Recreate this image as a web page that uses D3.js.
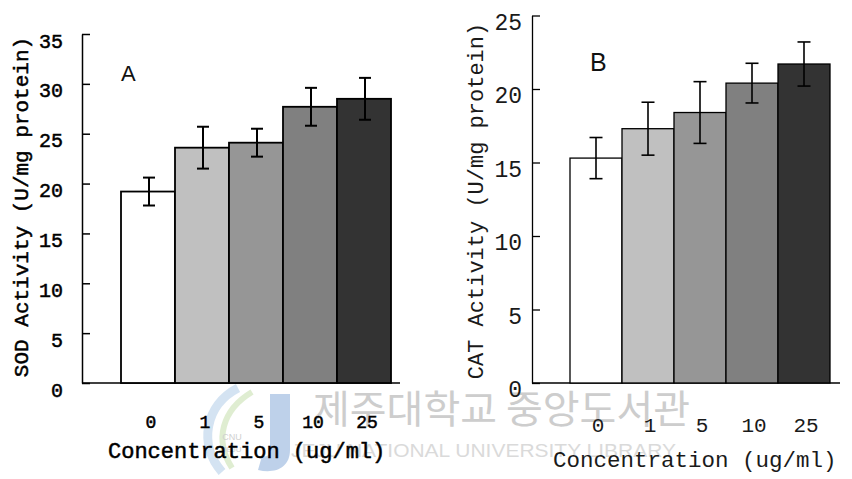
<!DOCTYPE html>
<html>
<head>
<meta charset="utf-8">
<script src="https://cdn.jsdelivr.net/npm/d3@7/dist/d3.min.js"></script>
<style>
  html, body { margin: 0; padding: 0; background: #fff; }
  svg { display: block; }
</style>
</head>
<body>
<svg id="chart" width="852" height="479"></svg>
<script>
// Concentrations tested (ug/ml)
const concentrations = ["0", "1", "5", "10", "25"];

// Panel A: SOD activity (U/mg protein), mean and error
const sodMean = [19.2, 23.6, 24.1, 27.7, 28.5];
const sodErr  = [1.4, 2.1, 1.4, 1.9, 2.1];
const sodTicks = [0, 5, 10, 15, 20, 25, 30, 35];

// Panel B: CAT activity (U/mg protein), mean and error
const catMean = [15.3, 17.3, 18.4, 20.4, 21.7];
const catErr  = [1.4, 1.8, 2.1, 1.35, 1.5];
const catTicks = [0, 5, 10, 15, 20, 25];

// Bar fills, from control (white) to highest dose (dark)
const barFills = ["#ffffff", "#c0c0c0", "#969696", "#808080", "#333333"];

const svg = d3.select("#chart");
const mono = "'Liberation Mono', 'DejaVu Sans Mono', monospace";

// ---- library watermark (faint, behind everything) ----
const wm = svg.append("g").attr("class", "watermark");
// logo: swirl strokes and a blue "J"
wm.append("path")
  .attr("d", "M238,388 C205,405 198,445 222,472")
  .attr("fill", "none").attr("stroke", "#c9dcef").attr("stroke-width", 9).attr("opacity", 0.8);
wm.append("path")
  .attr("d", "M252,392 C222,410 214,440 232,468")
  .attr("fill", "none").attr("stroke", "#d7e8c6").attr("stroke-width", 6).attr("opacity", 0.8);
wm.append("path")
  .attr("d", "M270,394 L290,394 L290,450 C290,468 275,474 258,470 L262,456 C270,458 270,452 270,446 Z")
  .attr("fill", "#b3c9e6").attr("opacity", 0.85);
wm.append("text").attr("x", 232).attr("y", 440)
  .attr("font-family", "'Liberation Sans', sans-serif").attr("font-size", 9)
  .attr("fill", "#d0d0d0").attr("text-anchor", "middle").text("CNU");
wm.append("text").attr("x", 232).attr("y", 452)
  .attr("font-family", "'Liberation Sans', sans-serif").attr("font-size", 8)
  .attr("fill", "#d0d0d0").attr("text-anchor", "middle").text("JEJU");
wm.append("text")
  .attr("x", 313).attr("y", 423)
  .attr("font-family", "'Noto Sans CJK KR', sans-serif")
  .attr("font-size", 39)
  .attr("textLength", 377).attr("lengthAdjust", "spacingAndGlyphs")
  .attr("fill", "#cdcdcd")
  .text("제주대학교 중앙도서관");
wm.append("text")
  .attr("x", 291).attr("y", 457)
  .attr("font-family", "'Liberation Sans', sans-serif")
  .attr("font-size", 19)
  .attr("textLength", 385).attr("lengthAdjust", "spacingAndGlyphs")
  .attr("fill", "#dadada")
  .text("JEJU NATIONAL UNIVERSITY LIBRARY");

// ---- panel builder ----
function drawPanel(cfg) {
  const g = svg.append("g");
  const y = d3.scaleLinear().domain([0, cfg.ymax]).range([cfg.y0, cfg.yTop]);
  const x = d3.scaleBand().domain(concentrations).range(cfg.xRange).padding(0);

  // y axis with inward ticks
  const yAxis = d3.axisLeft(y)
    .tickValues(cfg.ticks)
    .tickFormat(d3.format("d"))
    .tickSizeInner(-cfg.tickLen)
    .tickSizeOuter(0)
    .tickPadding(cfg.tickPad);
  const ya = g.append("g")
    .attr("transform", `translate(${cfg.axisX},0)`)
    .call(yAxis);
  ya.select(".domain").attr("stroke", "#000").attr("stroke-width", cfg.axisW);
  ya.selectAll(".tick line").attr("stroke", "#000").attr("stroke-width", cfg.axisW);
  ya.selectAll(".tick text")
    .attr("font-family", mono)
    .attr("font-size", cfg.yTickFont)
    .attr("fill", cfg.textFill)
    .attr("stroke", cfg.textStroke ? cfg.textFill : "none")
    .attr("stroke-width", cfg.textStroke || 0)
    .attr("dy", cfg.yTickDy);

  // baseline along the x axis
  g.append("line")
    .attr("x1", cfg.axisX).attr("x2", cfg.baseEnd)
    .attr("y1", y(0)).attr("y2", y(0))
    .attr("stroke", "#000").attr("stroke-width", cfg.axisW);

  // bars
  g.selectAll("rect.bar")
    .data(cfg.mean)
    .join("rect")
    .attr("class", "bar")
    .attr("x", (d, i) => x(concentrations[i]))
    .attr("width", x.bandwidth())
    .attr("y", d => y(d))
    .attr("height", d => y(0) - y(d))
    .attr("fill", (d, i) => barFills[i])
    .attr("stroke", "#000")
    .attr("stroke-width", cfg.barStroke);

  // error bars
  const eb = g.selectAll("g.err")
    .data(cfg.mean.map((m, i) => ({ m, e: cfg.err[i], c: concentrations[i] })))
    .join("g")
    .attr("class", "err")
    .attr("transform", d => `translate(${x(d.c) + x.bandwidth() / 2 + cfg.errShift},0)`);
  eb.append("line")
    .attr("x1", 0).attr("x2", 0)
    .attr("y1", d => y(d.m + d.e)).attr("y2", d => y(d.m - d.e))
    .attr("stroke", "#000").attr("stroke-width", cfg.errW);
  eb.append("line")
    .attr("x1", -cfg.cap / 2).attr("x2", cfg.cap / 2)
    .attr("y1", d => y(d.m + d.e)).attr("y2", d => y(d.m + d.e))
    .attr("stroke", "#000").attr("stroke-width", cfg.errW);
  eb.append("line")
    .attr("x1", -cfg.cap / 2).attr("x2", cfg.cap / 2)
    .attr("y1", d => y(d.m - d.e)).attr("y2", d => y(d.m - d.e))
    .attr("stroke", "#000").attr("stroke-width", cfg.errW);

  // x tick labels (category names)
  const xa = g.append("g")
    .attr("transform", `translate(${cfg.xLabelShift},${y(0)})`)
    .call(d3.axisBottom(x).tickSize(0).tickPadding(cfg.xTickPad));
  xa.select(".domain").remove();
  xa.selectAll(".tick text")
    .attr("font-family", mono)
    .attr("font-size", cfg.xTickFont)
    .attr("fill", cfg.textFill)
    .attr("stroke", cfg.textStroke ? cfg.textFill : "none")
    .attr("stroke-width", cfg.textStroke || 0);

  // axis titles
  g.append("text")
    .attr("x", cfg.xTitle[0]).attr("y", cfg.xTitle[1])
    .attr("font-family", mono)
    .attr("font-size", cfg.titleFont)
    .attr("fill", cfg.textFill)
    .attr("stroke", cfg.textStroke ? cfg.textFill : "none")
    .attr("stroke-width", cfg.textStroke || 0)
    .text("Concentration (ug/ml)");
  g.append("text")
    .attr("transform", `translate(${cfg.yTitle[0]},${cfg.yTitle[1]}) rotate(-90)`)
    .attr("text-anchor", "middle")
    .attr("dominant-baseline", "central")
    .attr("font-family", mono)
    .attr("font-size", cfg.yTitleFont)
    .attr("fill", cfg.textFill)
    .attr("stroke", cfg.textStroke ? cfg.textFill : "none")
    .attr("stroke-width", cfg.textStroke || 0)
    .text(cfg.yTitleText);

  // panel letter
  g.append("text")
    .attr("x", cfg.letterPos[0]).attr("y", cfg.letterPos[1])
    .attr("font-family", "'Liberation Sans', Arial, sans-serif")
    .attr("font-size", cfg.letterFont)
    .attr("fill", "#111")
    .text(cfg.letter);
}

drawPanel({
  letter: "A", letterPos: [121, 81], letterFont: 22,
  ymax: 35, ticks: sodTicks, mean: sodMean, err: sodErr,
  y0: 383, yTop: 34, xRange: [121, 391],
  axisX: 82, baseEnd: 400, axisW: 1.5,
  tickLen: 8, tickPad: 19, yTickFont: 20, yTickDy: "0.65em",
  barStroke: 1.8, errW: 2, cap: 12, errShift: 1,
  xLabelShift: 3, xTickPad: 32, xTickFont: 18,
  xTitle: [108, 458], titleFont: 22,
  yTitle: [22, 207], yTitleFont: 21, yTitleText: "SOD Activity (U/mg protein)",
  textFill: "#000", textStroke: 0.5
});

drawPanel({
  letter: "B", letterPos: [590, 71], letterFont: 25,
  ymax: 25, ticks: catTicks, mean: catMean, err: catErr,
  y0: 383, yTop: 15.5, xRange: [570, 830],
  axisX: 532, baseEnd: 840, axisW: 1.3,
  tickLen: 8, tickPad: 10, yTickFont: 23, yTickDy: "0.6em",
  barStroke: 1.3, errW: 1.6, cap: 13, errShift: 0,
  xLabelShift: 2, xTickPad: 34, xTickFont: 21,
  xTitle: [553, 467], titleFont: 22.5,
  yTitle: [477, 201], yTitleFont: 22, yTitleText: "CAT Activity (U/mg protein)",
  textFill: "#1a1a1a", textStroke: 0
});
</script>
</body>
</html>
